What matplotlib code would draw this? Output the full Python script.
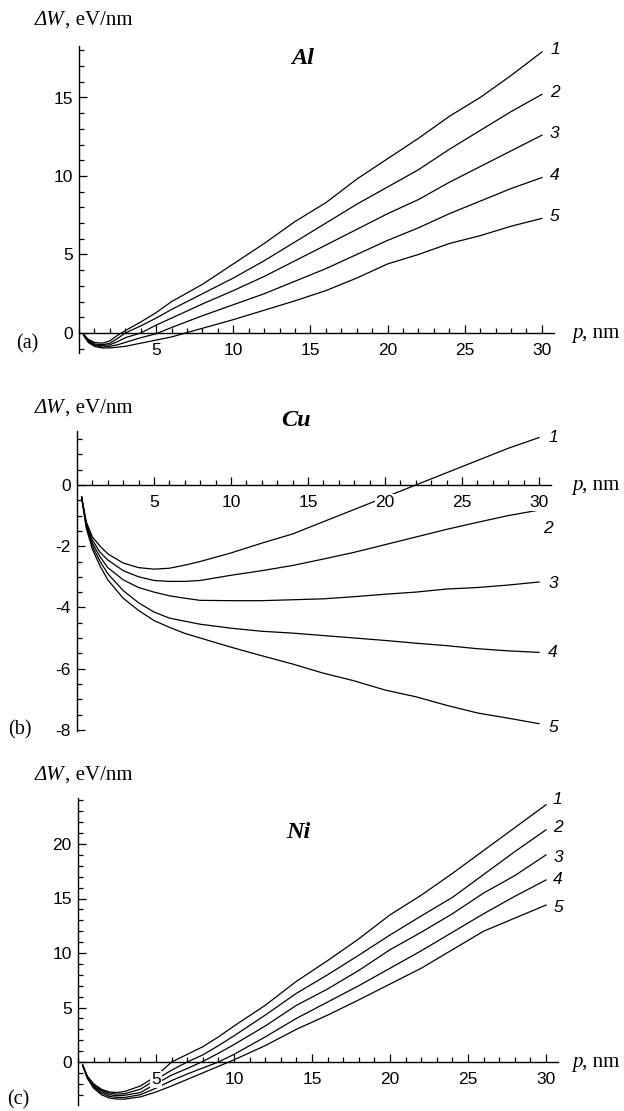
import matplotlib
matplotlib.use("Agg")
import matplotlib.pyplot as plt
from matplotlib.ticker import FixedLocator, MultipleLocator

plt.rcParams['font.family'] = 'Liberation Sans'
plt.rcParams['axes.unicode_minus'] = False

# ---------------- data ----------------
# (a) Al
p_al = [0.3, 0.6, 1, 1.5, 2, 2.5, 3, 4, 5, 6, 8, 10, 12, 14, 16, 18, 20, 22, 24, 26, 28, 30]
al_1 = [-0.1, -0.4, -0.6, -0.65, -0.5, -0.15, 0.15, 0.7, 1.3, 2.0, 3.1, 4.4, 5.7, 7.1, 8.3, 9.8, 11.1, 12.4, 13.8, 15.0, 16.4, 17.9]
al_2 = [-0.1, -0.45, -0.7, -0.75, -0.65, -0.35, 0.0, 0.45, 0.95, 1.5, 2.5, 3.5, 4.6, 5.8, 7.0, 8.2, 9.3, 10.4, 11.7, 12.9, 14.1, 15.2]
al_3 = [-0.1, -0.5, -0.75, -0.8, -0.75, -0.55, -0.3, 0.0, 0.5, 0.95, 1.85, 2.7, 3.6, 4.6, 5.6, 6.6, 7.6, 8.5, 9.6, 10.6, 11.6, 12.6]
al_4 = [-0.15, -0.55, -0.8, -0.9, -0.85, -0.75, -0.6, -0.3, -0.05, 0.35, 1.1, 1.8, 2.5, 3.3, 4.1, 5.0, 5.9, 6.7, 7.6, 8.4, 9.2, 9.9]
al_5 = [-0.15, -0.6, -0.85, -0.95, -0.95, -0.9, -0.85, -0.65, -0.45, -0.25, 0.3, 0.85, 1.45, 2.05, 2.7, 3.5, 4.4, 5.0, 5.7, 6.2, 6.8, 7.3]

# (b) Cu
p_cu = [0.3, 0.6, 1, 1.5, 2, 3, 4, 5, 6, 7, 8, 10, 12, 14, 16, 18, 20, 22, 24, 26, 28, 30]
cu_1 = [-0.4, -1.2, -1.7, -2.0, -2.25, -2.55, -2.7, -2.75, -2.72, -2.62, -2.5, -2.22, -1.9, -1.6, -1.2, -0.8, -0.4, 0.0, 0.4, 0.8, 1.2, 1.55]
cu_2 = [-0.4, -1.25, -1.8, -2.2, -2.45, -2.8, -3.0, -3.12, -3.15, -3.15, -3.12, -2.95, -2.8, -2.63, -2.42, -2.2, -1.95, -1.7, -1.45, -1.22, -1.0, -0.82]
cu_3 = [-0.4, -1.3, -1.9, -2.35, -2.7, -3.1, -3.35, -3.5, -3.62, -3.7, -3.77, -3.78, -3.78, -3.75, -3.72, -3.65, -3.57, -3.5, -3.4, -3.35, -3.27, -3.17]
cu_4 = [-0.4, -1.35, -2.0, -2.5, -2.9, -3.45, -3.85, -4.15, -4.35, -4.45, -4.55, -4.68, -4.78, -4.84, -4.92, -5.0, -5.08, -5.17, -5.25, -5.35, -5.42, -5.47]
cu_5 = [-0.4, -1.4, -2.1, -2.65, -3.1, -3.7, -4.1, -4.43, -4.65, -4.85, -5.0, -5.3, -5.58, -5.85, -6.15, -6.4, -6.7, -6.92, -7.2, -7.45, -7.62, -7.8]

# (c) Ni
p_ni = [0.3, 0.6, 1, 1.5, 2, 2.5, 3, 4, 5, 6, 7, 8, 9, 10, 12, 14, 16, 18, 20, 22, 24, 26, 28, 30]
ni_1 = [-0.3, -1.3, -2.0, -2.5, -2.75, -2.8, -2.7, -2.2, -1.3, 0.0, 0.7, 1.4, 2.3, 3.3, 5.2, 7.4, 9.3, 11.3, 13.5, 15.3, 17.3, 19.4, 21.5, 23.6]
ni_2 = [-0.3, -1.35, -2.1, -2.6, -2.85, -2.95, -2.9, -2.5, -1.6, -0.75, 0.0, 0.65, 1.5, 2.4, 4.3, 6.3, 8.0, 9.8, 11.65, 13.4, 15.1, 17.2, 19.3, 21.3]
ni_3 = [-0.3, -1.4, -2.2, -2.7, -3.0, -3.1, -3.05, -2.8, -2.0, -1.2, -0.6, 0.05, 0.8, 1.6, 3.3, 5.2, 6.7, 8.4, 10.3, 11.9, 13.6, 15.5, 17.1, 19.0]
ni_4 = [-0.3, -1.45, -2.3, -2.85, -3.15, -3.25, -3.25, -3.0, -2.4, -1.7, -1.1, -0.55, 0.0, 0.7, 2.3, 4.0, 5.5, 7.0, 8.6, 10.2, 11.9, 13.6, 15.2, 16.7]
ni_5 = [-0.3, -1.5, -2.4, -3.0, -3.3, -3.4, -3.4, -3.2, -2.75, -2.2, -1.6, -1.0, -0.4, 0.2, 1.5, 3.0, 4.3, 5.7, 7.15, 8.6, 10.3, 12.0, 13.2, 14.4]

curve_names = ['1', '2', '3', '4', '5']
x_major = [5, 10, 15, 20, 25, 30]
al_yticks = [0, 5, 10, 15]
cu_yticks = [-8, -6, -4, -2, 0]
ni_yticks = [0, 5, 10, 15, 20]

# ---------------- layout ----------------
W, H = 624, 1111
fig = plt.figure(figsize=(W / 100, H / 100), dpi=100)
renderer = fig.canvas.get_renderer()


def rect(left, right, top, bottom):
    return [left / W, 1 - bottom / H, (right - left) / W, (bottom - top) / H]


sans = 'Liberation Sans'
serif = 'Liberation Serif'
TICK_FS = 12.5


def setup(ax, xlim, ylim, yticks, yminor):
    ax.set_xlim(*xlim)
    ax.set_ylim(*ylim)
    ax.spines['top'].set_visible(False)
    ax.spines['right'].set_visible(False)
    ax.spines['bottom'].set_position(('data', 0))
    for s in ('left', 'bottom'):
        ax.spines[s].set_linewidth(1.0)
    ax.xaxis.set_major_locator(FixedLocator(x_major))
    ax.xaxis.set_minor_locator(MultipleLocator(1))
    ax.yaxis.set_major_locator(FixedLocator(yticks))
    ax.yaxis.set_minor_locator(MultipleLocator(yminor))
    ax.tick_params(which='both', direction='in', width=0.9, labelsize=TICK_FS)
    ax.tick_params(which='major', length=6)
    ax.tick_params(which='minor', length=3.5)
    ax.tick_params(axis='x', pad=7)
    ax.tick_params(axis='y', pad=4.5)
    ax.set_axisbelow(False)
    ax.patch.set_alpha(0)
    for lbl in ax.get_xticklabels():
        lbl.set_bbox(dict(facecolor='white', edgecolor='none', pad=0.6))


def draw(ax, p, series, offsets):
    for name, y, (dx, dy) in zip(curve_names, series, offsets):
        ax.plot(p, y, color='black', lw=0.9, solid_joinstyle='round')
        ax.annotate(name, xy=(p[-1], y[-1]), xytext=(dx, dy), textcoords='offset pixels',
                    ha='center', va='center', fontsize=TICK_FS, fontfamily=sans,
                    fontstyle='italic')


def fig_text(x, y, s, **kw):
    return fig.text(x / W, 1 - y / H, s, **kw)


def mixed_text(x, y, italic_part, plain_part, fs=15):
    t1 = fig_text(x, y, italic_part, fontsize=fs, fontfamily=serif, fontstyle='italic',
                  ha='left', va='baseline')
    bb = t1.get_window_extent(renderer=renderer)
    fig.text(bb.x1 / W, 1 - y / H, plain_part, fontsize=fs, fontfamily=serif,
             ha='left', va='baseline')


# (a) Al
ax1 = fig.add_axes(rect(79, 79 + 30.8 * 15.43, 333 - 18.3 * 15.7, 333 + 1.3 * 15.7))
setup(ax1, (0, 30.8), (-1.3, 18.3), al_yticks, 1)
draw(ax1, p_al, [al_1, al_2, al_3, al_4, al_5], [(13, 2)] * 5)

# (b) Cu
ax2 = fig.add_axes(rect(77, 77 + 30.8 * 15.4, 485 - 1.75 * 30.6, 485 + 8.05 * 30.6))
setup(ax2, (0, 30.8), (-8.05, 1.75), cu_yticks, 0.5)
draw(ax2, p_cu, [cu_1, cu_2, cu_3, cu_4, cu_5],
     [(14, 0), (9, -18), (14, -1), (14, 0), (14, -4)])

# (c) Ni
ax3 = fig.add_axes(rect(78, 78 + 30.8 * 15.6, 1062 - 24.2 * 10.9, 1062 + 3.9 * 10.9))
setup(ax3, (0, 30.8), (-3.9, 24.2), ni_yticks, 1)
draw(ax3, p_ni, [ni_1, ni_2, ni_3, ni_4, ni_5],
     [(11, 5), (12, 2), (12, -3), (12, 0), (12, -2)])

# texts (baseline positions)
for yy in (25, 413, 780):
    mixed_text(35, yy, 'ΔW', ', eV/nm')
for yy in (338, 490, 1067):
    mixed_text(572, yy, 'p', ', nm')
for (xx, yy, s) in ((303, 58, 'Al'), (296, 420, 'Cu'), (298, 833, 'Ni')):
    fig_text(xx, yy, s, fontsize=17.5, fontfamily=serif, fontweight='bold',
             fontstyle='italic', ha='center', va='center')
for (xx, yy, s) in ((27, 344, '(a)'), (20, 730, '(b)'), (18, 1100, '(c)')):
    fig_text(xx, yy, s, fontsize=14.5, fontfamily=serif, ha='center', va='center')

fig.savefig('out.png', dpi=100)
